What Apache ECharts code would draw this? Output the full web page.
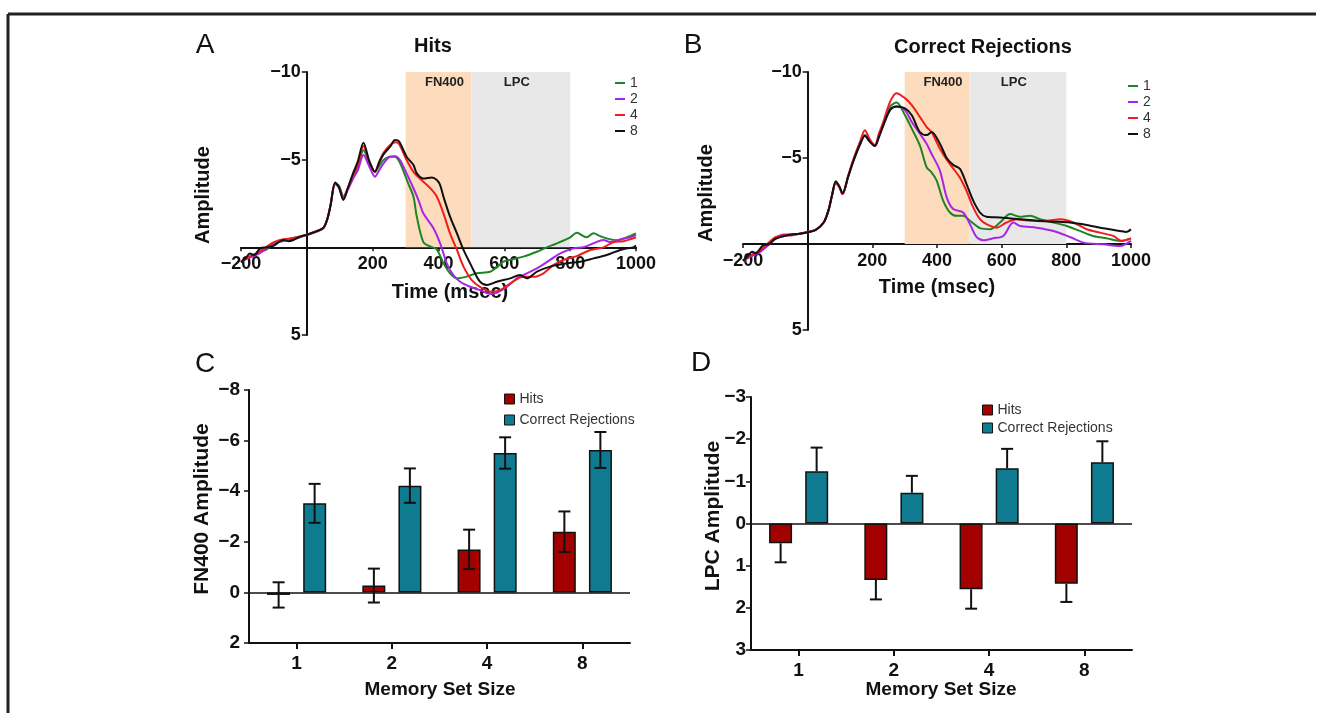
<!DOCTYPE html>
<html>
<head>
<meta charset="utf-8">
<title>FN400 / LPC by memory set size</title>
<script src="https://cdn.jsdelivr.net/npm/echarts@6/dist/echarts.min.js"></script>
<style>
  html, body { margin: 0; padding: 0; background: #fff; }
  #chart { width: 1323px; height: 713px; }
</style>
</head>
<body>
<div id="chart"></div>
<script>
// ---------- data ----------
var setSizes = ['1', '2', '4', '8'];
var fn400Window = [300, 500];
var lpcWindow = [500, 800];

// panel A: Hits, ERP amplitude by time (ms)
var hits1 = [[-200,0.85],[-175,0.55],[-150,0.35],[-125,0.15],[-100,-0.2],[-75,-0.4],[-50,-0.5],[-25,-0.6],[0,-0.72],[25,-0.9],[50,-1.1],[62,-1.6],[72,-2.4],[86,-3.65],[98,-3.5],[111,-2.9],[125,-3.4],[140,-4.0],[155,-4.5],[172,-5.55],[190,-4.8],[207,-4.31],[220,-4.65],[233,-4.98],[253,-5.17],[268,-5.17],[278,-5.0],[288,-4.6],[308,-3.65],[324,-2.89],[334,-1.75],[354,-0.3],[374,-0.05],[394,0.1],[415,0.9],[435,1.48],[456,1.77],[486,1.67],[516,1.48],[557,1.39],[580,1.1],[597,0.82],[620,0.7],[658,0.53],[699,0.25],[729,0],[760,-0.23],[800,-0.57],[820,-0.83],[850,-0.57],[871,-0.8],[890,-0.65],[911,-0.51],[942,-0.4],[972,-0.57],[1000,-0.8]];
var hits2 = [[-200,0.8],[-175,0.6],[-150,0.4],[-125,0.1],[-100,-0.25],[-75,-0.35],[-50,-0.45],[-25,-0.55],[0,-0.7],[25,-0.85],[50,-1.1],[62,-1.6],[72,-2.4],[86,-3.6],[98,-3.45],[111,-2.85],[125,-3.3],[140,-3.9],[155,-4.4],[172,-5.27],[190,-4.6],[207,-4.03],[220,-4.4],[233,-4.79],[253,-5.17],[268,-5.2],[283,-4.98],[303,-4.22],[324,-3.37],[340,-2.65],[354,-1.94],[385,-1.08],[405,-0.23],[425,0.91],[445,1.58],[466,1.96],[496,2.25],[526,2.44],[557,2.66],[577,2.6],[608,2.25],[638,1.77],[658,1.58],[699,1.2],[739,0.72],[770,0.34],[810,0.06],[840,0],[871,-0.23],[901,-0.42],[921,-0.3],[952,-0.45],[982,-0.57],[1000,-0.7]];
var hits4 = [[-200,0.8],[-175,0.55],[-150,0.3],[-125,0.0],[-100,-0.3],[-75,-0.45],[-50,-0.5],[-25,-0.6],[0,-0.72],[25,-0.9],[50,-1.1],[62,-1.6],[72,-2.4],[86,-3.65],[98,-3.4],[111,-2.75],[125,-3.4],[140,-4.1],[155,-4.7],[172,-5.78],[190,-4.9],[207,-4.31],[220,-4.9],[233,-5.39],[253,-5.84],[268,-6.0],[280,-5.9],[303,-4.98],[324,-4.31],[354,-3.74],[375,-3.37],[395,-2.89],[415,-1.94],[435,-0.8],[456,0.15],[476,1.1],[501,1.87],[526,2.25],[557,2.53],[587,2.44],[618,2.05],[658,1.68],[689,1.68],[719,1.48],[750,1.0],[780,0.72],[820,0.5],[861,0.15],[901,0],[932,-0.3],[962,-0.35],[1000,-0.57]];
var hits8 = [[-200,0.85],[-185,0.6],[-173,0.35],[-160,0.45],[-142,0.06],[-120,0.0],[-100,-0.1],[-85,-0.3],[-71,-0.42],[-55,-0.35],[-41,-0.42],[-21,-0.6],[0,-0.72],[25,-0.88],[50,-1.1],[62,-1.6],[72,-2.4],[86,-3.7],[98,-3.4],[111,-2.7],[125,-3.4],[140,-4.2],[155,-4.9],[172,-5.97],[190,-4.9],[207,-4.31],[220,-4.85],[233,-5.3],[253,-5.74],[268,-6.12],[280,-6.05],[303,-5.17],[324,-4.69],[334,-4.22],[354,-3.93],[380,-3.99],[395,-3.84],[405,-3.55],[415,-2.89],[435,-1.75],[456,-0.8],[476,0.15],[501,1.1],[526,1.96],[547,2.15],[577,1.96],[618,1.77],[648,1.58],[668,1.77],[699,1.39],[739,1.1],[790,0.91],[830,0.82],[871,0.63],[911,0.44],[952,0.15],[975,0.05],[992,0],[1000,-0.1]];

// panel B: Correct Rejections
var cr1 = [[-200,0.97],[-175,0.7],[-150,0.45],[-125,0.1],[-100,-0.3],[-75,-0.5],[-50,-0.55],[-25,-0.6],[0,-0.68],[25,-0.82],[50,-1.26],[65,-2.0],[75,-2.8],[87,-3.55],[98,-3.3],[108,-2.9],[125,-3.9],[141,-4.87],[162,-5.85],[177,-6.33],[192,-6.0],[208,-5.74],[220,-6.3],[234,-7.0],[255,-7.99],[275,-8.22],[301,-7.49],[322,-6.71],[347,-5.73],[368,-4.46],[383,-4.17],[399,-3.69],[419,-2.52],[440,-1.83],[460,-1.64],[481,-1.64],[502,-1.35],[533,-0.92],[564,-0.86],[595,-1.25],[626,-1.74],[657,-1.58],[688,-1.64],[719,-1.44],[760,-1.25],[801,-1.05],[842,-0.76],[883,-0.47],[924,-0.33],[966,-0.18],[1000,-0.33]];
var cr2 = [[-200,0.95],[-175,0.72],[-150,0.5],[-125,0.12],[-100,-0.32],[-75,-0.55],[-50,-0.55],[-25,-0.6],[0,-0.7],[25,-0.82],[50,-1.26],[65,-2.0],[75,-2.8],[87,-3.6],[98,-3.35],[108,-2.9],[125,-3.9],[141,-4.8],[162,-5.8],[177,-6.3],[192,-5.95],[208,-5.7],[220,-6.2],[234,-6.9],[255,-7.8],[275,-7.99],[301,-7.78],[322,-7.1],[347,-6.41],[368,-5.83],[383,-5.25],[409,-4.27],[430,-2.71],[450,-2.03],[481,-1.83],[502,-1.15],[522,-0.41],[543,-0.22],[574,-0.33],[605,-0.47],[636,-1.25],[657,-1.05],[708,-0.95],[760,-0.76],[811,-0.41],[853,-0.08],[914,0.02],[966,0.12],[1000,-0.18]];
var cr4 = [[-200,0.95],[-175,0.65],[-150,0.4],[-125,0.0],[-100,-0.4],[-75,-0.5],[-50,-0.5],[-25,-0.6],[0,-0.7],[25,-0.82],[50,-1.26],[65,-2.0],[75,-2.8],[87,-3.55],[98,-3.3],[108,-2.9],[125,-3.95],[141,-4.9],[162,-5.95],[177,-6.62],[192,-6.1],[208,-5.74],[220,-6.4],[234,-7.1],[255,-8.28],[275,-8.77],[301,-8.48],[322,-8.07],[347,-7.39],[368,-6.8],[383,-6.51],[409,-5.54],[430,-4.9],[450,-4.4],[471,-3.85],[491,-3.1],[512,-2.13],[533,-1.44],[553,-1.15],[584,-0.95],[615,-1.25],[646,-1.44],[688,-1.35],[739,-1.35],[781,-1.44],[822,-1.25],[863,-0.86],[904,-0.66],[945,-0.47],[971,-0.18],[1000,-0.33]];
var cr8 = [[-200,0.97],[-185,0.7],[-172,0.45],[-160,0.55],[-140,0.1],[-120,0.0],[-100,-0.3],[-75,-0.45],[-50,-0.55],[-25,-0.6],[0,-0.68],[25,-0.82],[50,-1.26],[65,-2.0],[75,-2.8],[87,-3.65],[98,-3.35],[108,-2.95],[125,-3.9],[141,-4.8],[162,-5.8],[177,-6.3],[192,-5.95],[208,-5.7],[220,-6.2],[234,-6.9],[255,-7.8],[275,-7.99],[301,-7.88],[322,-7.49],[347,-6.51],[368,-6.33],[383,-6.51],[409,-5.83],[430,-5.0],[450,-4.6],[471,-4.37],[491,-3.5],[512,-2.52],[533,-1.83],[553,-1.58],[595,-1.54],[657,-1.44],[708,-1.35],[760,-1.3],[811,-1.25],[863,-1.11],[914,-0.92],[966,-0.76],[986,-0.7],[1000,-0.85]];

// panel C: mean FN400 amplitude (+/- SE)
var fn400Hits = [0.1, -0.27, -1.7, -2.4];
var fn400HitsErr = [0.5, 0.67, 0.78, 0.8];
var fn400Cr = [-3.52, -4.22, -5.51, -5.63];
var fn400CrErr = [0.77, 0.68, 0.62, 0.71];

// panel D: mean LPC amplitude (+/- SE)
var lpcHits = [0.47, 1.34, 1.56, 1.43];
var lpcHitsErr = [0.45, 0.46, 0.46, 0.43];
var lpcCr = [-1.24, -0.73, -1.31, -1.45];
var lpcCrErr = [0.56, 0.4, 0.46, 0.5];

// ---------- styling ----------
var FONT = "'Liberation Sans', Arial, Helvetica, sans-serif";
var INK = '#111';
var LINE_COLORS = { '1': '#1f8424', '2': '#a626e8', '4': '#f21c1c', '8': '#111111' };
var HIT_RED = '#a30000';
var CR_TEAL = '#0f7b91';
var BAR_W = 23, BAR_GAP = 13;
var T_MIN = -200, T_MAX = 1000, AMP_MIN = -10, AMP_MAX = 5;

var gridA = { left: 241, top: 72, width: 395, height: 263 };
var gridB = { left: 743, top: 72, width: 388, height: 258 };
var gridC = { left: 249, top: 390, width: 381, height: 253 };
var gridD = { left: 751, top: 397, width: 381, height: 253 };

function minus(v) { return v < 0 ? '\u2212' + (-v) : String(v); }

// ERP axes cross at (0 ms, 0 uV): shift them from the grid edge to zero
function erpX(grid, g) {
    return {
        type: 'value', gridIndex: grid, min: T_MIN, max: T_MAX, interval: 200,
        position: 'bottom', offset: -g.height * AMP_MAX / (AMP_MAX - AMP_MIN),
        axisLine: { show: true, onZero: false, lineStyle: { color: INK, width: 2 } },
        axisTick: { show: true, length: 4, lineStyle: { color: INK, width: 1.5 } },
        axisLabel: {
            formatter: function (v) { return v === 0 ? '' : minus(v); },
            fontFamily: FONT, fontWeight: 'bold', fontSize: 18, color: INK, margin: 8,
            showMinLabel: true, showMaxLabel: true
        },
        splitLine: { show: false }
    };
}
function erpY(grid, g) {
    return {
        type: 'value', gridIndex: grid, min: AMP_MIN, max: AMP_MAX, interval: 5, inverse: true,
        position: 'left', offset: -g.width * (0 - T_MIN) / (T_MAX - T_MIN),
        axisLine: { show: true, onZero: false, lineStyle: { color: INK, width: 2 } },
        axisTick: { show: true, length: 5, lineStyle: { color: INK, width: 1.5 } },
        axisLabel: {
            formatter: function (v) { return v === 0 ? '' : minus(v); },
            fontFamily: FONT, fontWeight: 'bold', fontSize: 18, color: INK, margin: 6,
            showMinLabel: true, showMaxLabel: true
        },
        splitLine: { show: false }
    };
}
function barX(grid) {
    return {
        type: 'category', gridIndex: grid, data: setSizes,
        axisLine: { show: true, onZero: false, lineStyle: { color: INK, width: 2 } },
        axisTick: { show: true, alignWithLabel: true, length: 6, lineStyle: { color: INK, width: 2 } },
        axisLabel: { fontFamily: FONT, fontWeight: 'bold', fontSize: 19, color: INK, margin: 11 },
        splitLine: { show: false }
    };
}
function barY(grid, min, max, step, margin) {
    return {
        type: 'value', gridIndex: grid, min: min, max: max, interval: step, inverse: true,
        axisLine: { show: true, onZero: false, lineStyle: { color: INK, width: 2 } },
        axisTick: { show: true, length: 5, lineStyle: { color: INK, width: 1.5 } },
        axisLabel: {
            formatter: minus, fontFamily: FONT, fontWeight: 'bold', fontSize: 19, color: INK, margin: margin,
            showMinLabel: true, showMaxLabel: true
        },
        splitLine: { show: false }
    };
}

var bandLabel = { position: 'insideTop', distance: 4, fontFamily: FONT, fontWeight: 'bold', fontSize: 13, color: '#222' };
var bands = {
    silent: true, z: 1, label: bandLabel,
    data: [
        [{ name: 'FN400', xAxis: fn400Window[0], yAxis: AMP_MIN, itemStyle: { color: '#fddcbd' }, label: { offset: [6, 0] } },
         { xAxis: fn400Window[1], yAxis: 0 }],
        [{ name: 'LPC', xAxis: lpcWindow[0], yAxis: AMP_MIN, itemStyle: { color: '#e8e8e8' }, label: { offset: [-4, 0] } },
         { xAxis: lpcWindow[1], yAxis: 0 }]
    ]
};

function wave(name, data, grid, withBands) {
    var s = {
        name: name, type: 'line', xAxisIndex: grid, yAxisIndex: grid, data: data,
        showSymbol: false, smooth: 0.3, silent: true, z: 3,
        color: LINE_COLORS[name], lineStyle: { width: 2, color: LINE_COLORS[name] }
    };
    if (withBands) s.markArea = bands;
    return s;
}

function bars(name, data, grid, color, zeroLine) {
    var s = {
        name: name, type: 'bar', xAxisIndex: grid, yAxisIndex: grid, data: data,
        barWidth: BAR_W, barGap: Math.round(BAR_GAP / BAR_W * 100) + '%', silent: true,
        color: color, itemStyle: { color: color, borderColor: INK, borderWidth: 1.5 }
    };
    if (zeroLine) {
        s.markLine = {
            silent: true, symbol: 'none', label: { show: false },
            lineStyle: { color: INK, width: 1.5, type: 'solid' },
            data: [{ yAxis: 0 }]
        };
    }
    return s;
}

// error bars through the axes; oneSided draws only the outward whisker
function errorBars(values, errs, grid, dx, oneSided) {
    return {
        type: 'custom', xAxisIndex: grid, yAxisIndex: grid, silent: true, z: 5,
        data: values.map(function (v, i) { return [i, v, errs[i]]; }),
        renderItem: function (params, api) {
            var i = api.value(0), v = api.value(1), e = api.value(2);
            var dir = v < 0 ? -1 : 1;
            var a = oneSided ? v : v - e;
            var b = oneSided ? v + dir * e : v + e;
            var pa = api.coord([i, a]), pb = api.coord([i, b]);
            var x = pa[0] + dx, cap = 6;
            var st = { stroke: INK, lineWidth: 2 };
            var kids = [
                { type: 'line', shape: { x1: x, y1: pa[1], x2: x, y2: pb[1] }, style: st },
                { type: 'line', shape: { x1: x - cap, y1: pb[1], x2: x + cap, y2: pb[1] }, style: st }
            ];
            if (!oneSided) kids.push({ type: 'line', shape: { x1: x - cap, y1: pa[1], x2: x + cap, y2: pa[1] }, style: st });
            return { type: 'group', children: kids };
        }
    };
}

function txt(s, x, y, size, weight, rot) {
    return {
        type: 'text', x: x, y: y, rotation: rot || 0, silent: true,
        style: { text: s, font: (weight || 'normal') + ' ' + size + 'px ' + FONT, fill: INK, align: 'center', verticalAlign: 'middle' }
    };
}
function hline(x1, y1, x2, y2) {
    return { type: 'line', silent: true, shape: { x1: x1, y1: y1, x2: x2, y2: y2 }, style: { stroke: '#222', lineWidth: 3 } };
}

var off = (BAR_W + BAR_GAP) / 2;
var lineLegend = {
    orient: 'vertical', icon: 'rect', itemWidth: 10, itemHeight: 2, itemGap: 2,
    textStyle: { fontFamily: FONT, fontSize: 14, color: '#333', lineHeight: 14 },
    data: ['1', '2', '4', '8'], selectedMode: false
};
var barLegend = {
    orient: 'vertical', icon: 'rect', itemWidth: 10, itemHeight: 10,
    itemStyle: { borderColor: INK, borderWidth: 1 },
    textStyle: { fontFamily: FONT, fontSize: 14, color: '#333', lineHeight: 14 },
    data: ['Hits', 'Correct Rejections'], selectedMode: false
};

function withGrid(g) { return Object.assign({ outerBoundsMode: 'none' }, g); }

var myChart = echarts.init(document.getElementById('chart'));
var option = {
    animation: false,
    backgroundColor: '#fff',
    grid: [withGrid(gridA), withGrid(gridB), withGrid(gridC), withGrid(gridD)],
    xAxis: [erpX(0, gridA), erpX(1, gridB), barX(2), barX(3)],
    yAxis: [erpY(0, gridA), erpY(1, gridB), barY(2, -8, 2, 2, 9), barY(3, -3, 3, 1, 5)],
    legend: [
        Object.assign({ left: 610, top: 71 }, lineLegend),
        Object.assign({ left: 1123, top: 74 }, lineLegend),
        Object.assign({ left: 499, top: 387, itemGap: 7 }, barLegend),
        Object.assign({ left: 977, top: 398, itemGap: 4 }, barLegend)
    ],
    graphic: [
        hline(8, 14, 1316, 14),
        hline(8, 14, 8, 713),
        txt('A', 205, 45, 28), txt('B', 693, 45, 28), txt('C', 205, 364, 28), txt('D', 701, 363, 28),
        txt('Hits', 433, 46, 20, 'bold'),
        txt('Correct Rejections', 983, 47, 20, 'bold'),
        txt('Amplitude', 203, 195, 20, 'bold', Math.PI / 2),
        txt('Time (msec)', 450, 292, 20, 'bold'),
        txt('Amplitude', 706, 193, 20, 'bold', Math.PI / 2),
        txt('Time (msec)', 937, 287, 20, 'bold'),
        txt('FN400 Amplitude', 202, 509, 21, 'bold', Math.PI / 2),
        txt('Memory Set Size', 440, 690, 19, 'bold'),
        txt('LPC Amplitude', 713, 516, 21, 'bold', Math.PI / 2),
        txt('Memory Set Size', 941, 690, 19, 'bold')
    ],
    series: [
        wave('1', hits1, 0, true), wave('2', hits2, 0), wave('4', hits4, 0), wave('8', hits8, 0),
        wave('1', cr1, 1, true), wave('2', cr2, 1), wave('4', cr4, 1), wave('8', cr8, 1),
        bars('Hits', fn400Hits, 2, HIT_RED, true), bars('Correct Rejections', fn400Cr, 2, CR_TEAL),
        errorBars(fn400Hits, fn400HitsErr, 2, -off, false),
        errorBars(fn400Cr, fn400CrErr, 2, off, false),
        bars('Hits', lpcHits, 3, HIT_RED, true), bars('Correct Rejections', lpcCr, 3, CR_TEAL),
        errorBars(lpcHits, lpcHitsErr, 3, -off, true),
        errorBars(lpcCr, lpcCrErr, 3, off, true)
    ]
};
myChart.setOption(option);
window.addEventListener('resize', function () { myChart.resize(); });
</script>
</body>
</html>
